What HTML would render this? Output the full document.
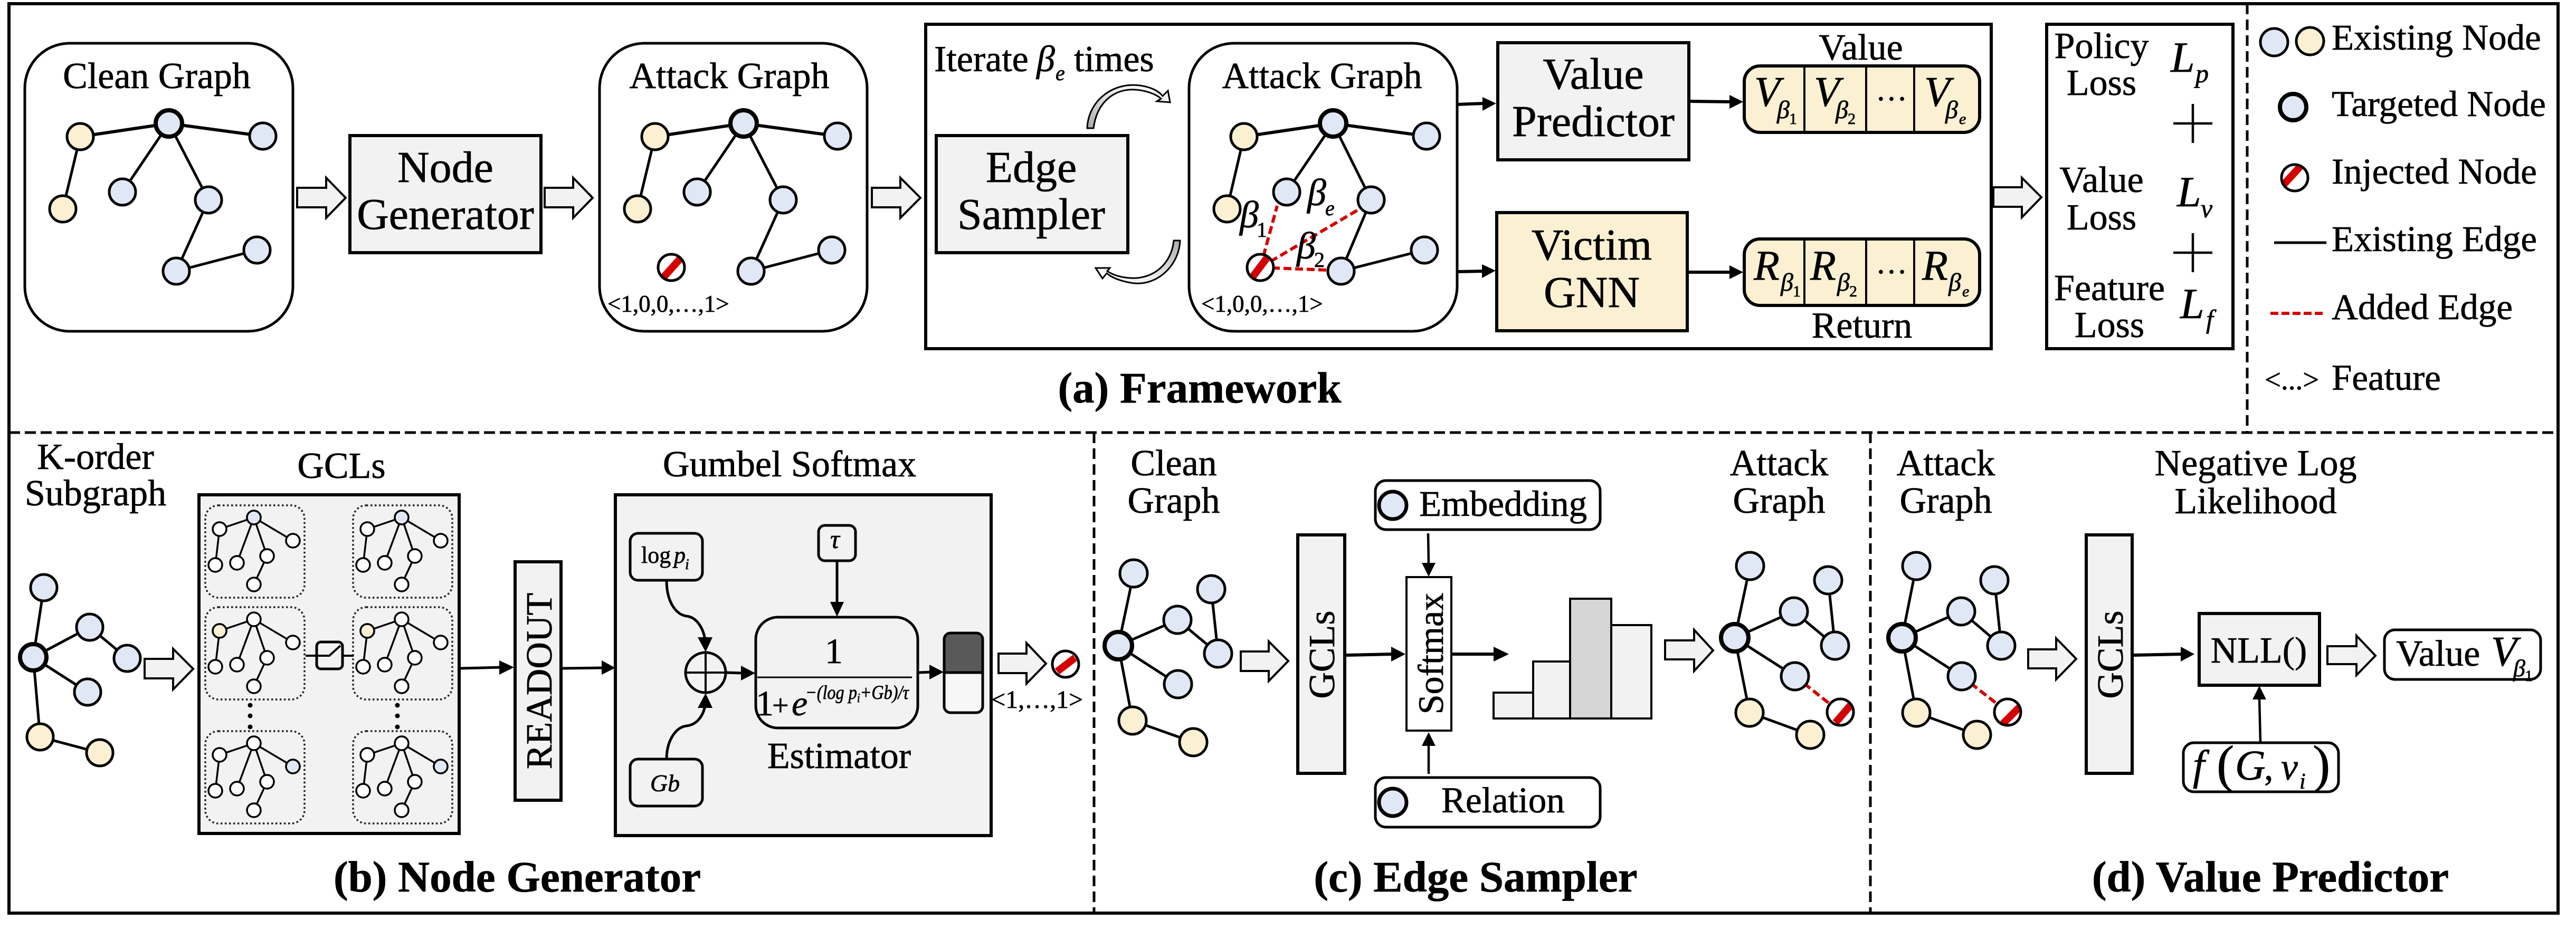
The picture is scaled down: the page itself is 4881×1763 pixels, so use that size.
<!DOCTYPE html>
<html>
<head>
<meta charset="utf-8">
<style>
html,body{margin:0;padding:0;background:#fff;width:4881px;height:1763px;overflow:hidden}
svg{display:block}
text{font-family:"Liberation Serif","Times New Roman",serif;fill:#000;stroke:#000;stroke-width:.7}
.i{font-style:italic}
.m{text-anchor:middle}
.h{font-size:70px}
.b{font-size:84px}
.c{font-size:83px;font-weight:bold}
.n{stroke:#000;stroke-width:5;fill:#e1e8f5}
.y{stroke:#000;stroke-width:5;fill:#fbf1d2}
.t{stroke:#000;stroke-width:8;fill:#e1e8f5}
.e{stroke:#000;stroke-width:5;fill:none}
.ar{fill:#f2f2f2;stroke:#000;stroke-width:4;stroke-linejoin:miter}
.box{fill:#f2f2f2;stroke:#000;stroke-width:6}
.rb{fill:#fff;stroke:#000;stroke-width:5}
.ln{stroke:#000;stroke-width:6;fill:none}
.hd{fill:#000}
.rd{stroke:#d40000;stroke-width:6;stroke-dasharray:15 7;fill:none}
.dt{fill:none;stroke:#222;stroke-width:3.5;stroke-dasharray:3.5 4.5}
.mn{fill:#fff;stroke:#000;stroke-width:3.5}
.me{fill:none;stroke:#000;stroke-width:3.5}
</style>
</head>
<body>
<svg xmlns="http://www.w3.org/2000/svg" width="4881" height="1763" viewBox="0 0 4881 1763">
<defs>
<clipPath id="cc"><circle r="24"/></clipPath>
<g id="g1">
<path class="e" style="stroke-width:6" d="M152,259L320,234L498,258"/>
<path class="e" d="M152,259L119,396M320,234L232,364M320,234L395,379L334,514L487,474"/>
<circle class="y" cx="152" cy="259" r="25"/><circle class="y" cx="119" cy="396" r="25"/>
<circle class="n" cx="498" cy="258" r="25"/><circle class="n" cx="232" cy="364" r="25"/>
<circle class="n" cx="395" cy="379" r="25"/><circle class="n" cx="334" cy="514" r="25"/>
<circle class="n" cx="487" cy="474" r="25"/><circle class="t" cx="320" cy="234" r="25"/>
</g>
<g id="mini">
<path class="me" d="M27,45L92,23L166,67M27,45L19,113M92,23L60,109M92,23L117,96L92,150"/>
<circle class="mn" cx="92" cy="23" r="13"/><circle class="mn" cx="27" cy="45" r="13"/><circle class="mn" cx="166" cy="67" r="13"/>
<circle class="mn" cx="19" cy="113" r="13"/><circle class="mn" cx="60" cy="109" r="13"/><circle class="mn" cx="117" cy="96" r="13"/><circle class="mn" cx="92" cy="150" r="13"/>
</g>
<linearGradient id="cg1" x1="0" y1="1" x2="1" y2="0"><stop offset="0" stop-color="#aaa"/><stop offset="0.6" stop-color="#eee"/><stop offset="1" stop-color="#fff"/></linearGradient>
<linearGradient id="cg2" x1="1" y1="0" x2="0" y2="1"><stop offset="0" stop-color="#aaa"/><stop offset="0.6" stop-color="#eee"/><stop offset="1" stop-color="#fff"/></linearGradient>
</defs>

<!-- outer frame and separators -->
<rect x="17" y="7" width="4830" height="1724" fill="none" stroke="#000" stroke-width="6"/>
<line x1="17" y1="820" x2="4847" y2="820" stroke="#000" stroke-width="5" stroke-dasharray="21 9"/>
<line x1="2073" y1="820" x2="2073" y2="1728" stroke="#000" stroke-width="5" stroke-dasharray="20 10"/>
<line x1="3544" y1="820" x2="3544" y2="1728" stroke="#000" stroke-width="5" stroke-dasharray="20 10"/>
<line x1="4258" y1="7" x2="4258" y2="820" stroke="#000" stroke-width="5" stroke-dasharray="20 10"/>

<!-- (a) -->
<rect class="rb" x="47" y="82" width="508" height="546" rx="85" ry="85"/>
<text class="h m" x="297" y="167">Clean Graph</text>
<use href="#g1"/>
<path class="ar" d="M563,356H618V337L655,375L618,413V393H563Z"/>
<rect class="box" x="663" y="257" width="362" height="222"/>
<text class="b m" x="844" y="345">Node</text>
<text class="b m" x="844" y="434">Generator</text>
<path class="ar" d="M1032,356H1086V337L1123,375L1086,413V393H1032Z"/>
<rect class="rb" x="1136" y="82" width="507" height="546" rx="85" ry="85"/>
<text class="h m" x="1382" y="167">Attack Graph</text>
<use href="#g1" transform="translate(1089,0)"/>
<g transform="translate(1272,507)"><circle r="25" fill="#fff"/><g clip-path="url(#cc)"><line x1="-16" y1="20" x2="18" y2="-18" stroke="#d40000" stroke-width="14"/></g><circle r="25" fill="none" stroke="#000" stroke-width="5"/></g>
<text x="1151" y="591" font-size="45">&lt;1,0,0,…,1&gt;</text>
<path class="ar" d="M1652,356H1706V337L1744,375L1706,413V393H1652Z"/>

<rect x="1754" y="46" width="2019" height="615" fill="none" stroke="#000" stroke-width="6"/>
<text class="h" x="1770" y="135">Iterate</text>
<text class="h i" x="1964" y="135">β</text>
<text class="i" x="2000" y="152" font-size="40">e</text>
<text class="h" x="2035" y="135">times</text>
<rect class="box" x="1774" y="257" width="363" height="222"/>
<text class="b m" x="1954" y="345">Edge</text>
<text class="b m" x="1954" y="434">Sampler</text>
<path d="M2060,243C2062,190 2110,155 2160,162C2180,165 2195,172 2203,182L2213,172L2217,194L2192,192L2200,187C2190,178 2170,171 2150,170C2110,168 2078,195 2072,243Z" fill="url(#cg1)" stroke="#000" stroke-width="3"/>
<path d="M2236,456C2234,505 2190,545 2142,536C2120,532 2105,525 2097,518L2089,528L2076,508L2103,508L2098,514C2110,522 2125,526 2142,527C2185,530 2220,500 2224,456Z" fill="url(#cg2)" stroke="#000" stroke-width="3"/>
<rect class="rb" x="2253" y="82" width="508" height="546" rx="85" ry="85"/>
<text class="h m" x="2505" y="167">Attack Graph</text>
<path class="e" style="stroke-width:6" d="M2357,259L2526,234L2703,258"/>
<path class="e" d="M2357,259L2325,396M2526,234L2438,364M2526,234L2598,379L2541,514M2541,514L2699,474"/>
<path class="rd" d="M2388,507L2420,390"/>
<path class="rd" d="M2388,507L2578,395"/>
<path class="rd" d="M2388,507L2515,512"/>
<circle class="y" cx="2357" cy="259" r="25"/><circle class="y" cx="2325" cy="396" r="25"/>
<circle class="n" cx="2703" cy="258" r="25"/><circle class="n" cx="2438" cy="364" r="25"/>
<circle class="n" cx="2598" cy="379" r="25"/><circle class="n" cx="2541" cy="514" r="25"/>
<circle class="n" cx="2699" cy="474" r="25"/><circle class="t" cx="2526" cy="234" r="25"/>
<g transform="translate(2388,507)"><circle r="25" fill="#fff"/><g clip-path="url(#cc)"><line x1="-16" y1="20" x2="14" y2="-20" stroke="#d40000" stroke-width="14"/></g><circle r="25" fill="none" stroke="#000" stroke-width="5"/></g>
<text class="i" x="2349" y="431" font-size="72">β</text><text x="2381" y="449" font-size="40">1</text>
<text class="i" x="2457" y="490" font-size="72">β</text><text x="2490" y="506" font-size="40">2</text>
<text class="i" x="2477" y="389" font-size="72">β</text><text class="i" x="2511" y="408" font-size="40">e</text>
<text x="2276" y="591" font-size="45">&lt;1,0,0,…,1&gt;</text>

<path class="ln" d="M2761,198L2812,196"/><path class="hd" d="M2835,196L2809,184V210Z"/>
<path class="ln" d="M2761,515L2812,514"/><path class="hd" d="M2834,513L2808,501V527Z"/>
<rect class="box" x="2838" y="81" width="362" height="222"/>
<text class="b m" x="3019" y="168">Value</text>
<text class="b m" x="3019" y="258">Predictor</text>
<rect class="box" style="fill:#fbf1d2" x="2836" y="403" width="361" height="224"/>
<text class="b m" x="3016" y="492">Victim</text>
<text class="b m" x="3016" y="582">GNN</text>
<path class="ln" d="M3200,192L3280,193"/><path class="hd" d="M3303,193L3277,180V206Z"/>
<path class="ln" d="M3197,516L3280,516"/><path class="hd" d="M3303,516L3277,503V529Z"/>

<text class="h m" x="3526" y="113">Value</text>
<rect class="y" style="stroke-width:6" x="3305" y="125" width="446" height="126" rx="30"/>
<path class="e" d="M3419,125V251M3536,125V251M3627,125V251" style="stroke-width:4"/>
<text class="i" x="3324" y="201" font-size="80">V</text><text class="i" x="3367" y="224" font-size="48">β</text><text x="3390" y="235" font-size="30">1</text>
<text class="i" x="3437" y="201" font-size="80">V</text><text class="i" x="3478" y="224" font-size="48">β</text><text x="3501" y="235" font-size="30">2</text>
<text class="m" x="3584" y="190" font-size="60">…</text>
<text class="i" x="3646" y="201" font-size="80">V</text><text class="i" x="3686" y="224" font-size="48">β</text><text class="i" x="3712" y="235" font-size="30">e</text>

<rect class="y" style="stroke-width:6" x="3305" y="453" width="446" height="126" rx="30"/>
<path class="e" d="M3419,453V579M3536,453V579M3627,453V579" style="stroke-width:4"/>
<text class="i" x="3323" y="530" font-size="80">R</text><text class="i" x="3374" y="551" font-size="48">β</text><text x="3397" y="562" font-size="30">1</text>
<text class="i" x="3430" y="530" font-size="80">R</text><text class="i" x="3481" y="551" font-size="48">β</text><text x="3504" y="562" font-size="30">2</text>
<text class="m" x="3584" y="518" font-size="60">…</text>
<text class="i" x="3642" y="530" font-size="80">R</text><text class="i" x="3692" y="551" font-size="48">β</text><text class="i" x="3718" y="562" font-size="30">e</text>
<text class="h m" x="3528" y="640">Return</text>

<path class="ar" d="M3777,355H3831V337L3868,374L3831,412V392H3777Z"/>
<rect x="3878" y="46" width="353" height="615" fill="#fff" stroke="#000" stroke-width="6"/>
<text class="h m" x="3982" y="110">Policy</text><text class="h m" x="3982" y="180">Loss</text>
<text class="h m" x="3982" y="364">Value</text><text class="h m" x="3982" y="435">Loss</text>
<text class="h m" x="3997" y="569">Feature</text><text class="h m" x="3997" y="639">Loss</text>
<text class="i" x="4113" y="136" font-size="82">L</text><text class="i" x="4160" y="156" font-size="50">p</text>
<text class="i" x="4125" y="391" font-size="82">L</text><text class="i" x="4170" y="412" font-size="50">v</text>
<text class="i" x="4131" y="603" font-size="82">L</text><text class="i" x="4180" y="622" font-size="50">f</text>
<path d="M4118,234H4192M4155,197V271M4118,479H4192M4155,442V516" stroke="#000" stroke-width="4.5" fill="none"/>
<text class="c m" x="2273" y="763">(a) Framework</text>

<!-- legend -->
<circle class="n" cx="4309" cy="80" r="26"/><circle class="y" cx="4377" cy="78" r="26"/>
<text x="4418" y="94" font-size="69">Existing Node</text>
<circle class="t" cx="4345" cy="203" r="25"/>
<text x="4418" y="220" font-size="69">Targeted Node</text>
<g transform="translate(4348,337)"><circle r="25" fill="#fff"/><g clip-path="url(#cc)"><line x1="-22" y1="14" x2="11" y2="-22" stroke="#d40000" stroke-width="14"/></g><circle r="25" fill="none" stroke="#000" stroke-width="5"/></g>
<text x="4418" y="348" font-size="69">Injected Node</text>
<line x1="4309" y1="460" x2="4408" y2="460" stroke="#000" stroke-width="5"/>
<text x="4418" y="476" font-size="69">Existing Edge</text>
<line x1="4302" y1="594" x2="4401" y2="594" stroke="#d40000" stroke-width="6" stroke-dasharray="15 6"/>
<text x="4418" y="605" font-size="69">Added Edge</text>
<text x="4291" y="738" font-size="55">&lt;...&gt;</text>
<text x="4418" y="739" font-size="69">Feature</text>

<!-- (b) -->
<text class="h m" x="181" y="889">K-order</text>
<text class="h m" x="181" y="958">Subgraph</text>
<path class="e" d="M63,1246L83,1114M63,1246L170,1189L241,1248M63,1246L166,1312M63,1246L76,1397L189,1427"/>
<circle class="n" cx="83" cy="1114" r="25"/><circle class="n" cx="170" cy="1189" r="25"/><circle class="n" cx="241" cy="1248" r="25"/><circle class="n" cx="166" cy="1312" r="25"/>
<circle class="y" cx="76" cy="1397" r="25"/><circle class="y" cx="189" cy="1427" r="25"/>
<circle class="t" cx="63" cy="1246" r="25"/>
<path class="ar" d="M274,1249H328V1230L366,1268L328,1307V1286H274Z"/>
<text class="h m" x="647" y="906">GCLs</text>
<rect class="box" x="377" y="938" width="493" height="642"/>
<rect class="dt" x="389" y="958" width="188" height="175" rx="25"/>
<rect class="dt" x="669" y="958" width="188" height="175" rx="25"/>
<rect class="dt" x="389" y="1151" width="188" height="175" rx="25"/>
<rect class="dt" x="669" y="1151" width="188" height="175" rx="25"/>
<rect class="dt" x="389" y="1386" width="188" height="175" rx="25"/>
<rect class="dt" x="669" y="1386" width="188" height="175" rx="25"/>
<use href="#mini" transform="translate(389,958)"/>
<use href="#mini" transform="translate(669,958)"/>
<use href="#mini" transform="translate(389,1151)"/>
<use href="#mini" transform="translate(669,1151)"/>
<use href="#mini" transform="translate(389,1386)"/>
<use href="#mini" transform="translate(669,1386)"/>
<circle class="mn" style="fill:#e1e8f5" cx="481" cy="981" r="13"/>
<circle class="mn" style="fill:#e1e8f5" cx="761" cy="981" r="13"/>
<circle class="mn" style="fill:#fbf1d2" cx="416" cy="1196" r="13"/>
<circle class="mn" style="fill:#fbf1d2" cx="696" cy="1196" r="13"/>
<circle class="mn" style="fill:#e1e8f5" cx="555" cy="1453" r="13"/>
<circle class="mn" style="fill:#e1e8f5" cx="835" cy="1453" r="13"/>
<g fill="#000"><circle cx="474" cy="1337" r="4.5"/><circle cx="474" cy="1357" r="4.5"/><circle cx="474" cy="1378" r="4.5"/><circle cx="753" cy="1337" r="4.5"/><circle cx="753" cy="1357" r="4.5"/><circle cx="753" cy="1378" r="4.5"/></g>
<rect x="600" y="1217" width="49" height="51" rx="8" fill="none" stroke="#000" stroke-width="5"/>
<path d="M579,1243H624L645,1224M649,1243H670" fill="none" stroke="#000" stroke-width="4"/>
<path class="ln" style="stroke-width:5" d="M872,1267L950,1265"/><path class="hd" d="M974,1265L946,1252V1279Z"/>
<rect class="box" x="976" y="1065" width="87" height="452"/>
<text class="h m" transform="translate(1045,1291) rotate(-90)">READOUT</text>
<path class="ln" style="stroke-width:5" d="M1066,1267L1144,1266"/><path class="hd" d="M1166,1266L1140,1252V1279Z"/>
<text class="h m" x="1496" y="903">Gumbel Softmax</text>
<rect class="box" x="1166" y="938" width="712" height="646"/>
<rect x="1194" y="1011" width="137" height="89" rx="15" fill="none" stroke="#000" stroke-width="5"/>
<text x="1215" y="1067" font-size="44">log</text><text class="i" x="1277" y="1067" font-size="44">p</text><text class="i" x="1298" y="1079" font-size="28">i</text>
<rect x="1551" y="996" width="70" height="67" rx="12" fill="none" stroke="#000" stroke-width="5"/>
<text class="i m" x="1582" y="1039" font-size="50">τ</text>
<rect x="1194" y="1439" width="137" height="89" rx="15" fill="none" stroke="#000" stroke-width="5"/>
<text class="i m" x="1260" y="1500" font-size="46">Gb</text>
<path class="ln" style="stroke-width:5" d="M1586,1063V1145"/><path class="hd" d="M1586,1169L1573,1141H1599Z"/>
<path class="ln" style="stroke-width:5" d="M1263,1100C1263,1140 1280,1165 1301,1168C1320,1170 1332,1190 1336,1212"/><path class="hd" d="M1337,1236L1322,1208H1350Z"/>
<path class="ln" style="stroke-width:5" d="M1263,1439C1263,1405 1280,1378 1301,1376C1320,1374 1332,1358 1336,1338"/><path class="hd" d="M1337,1314L1322,1342H1350Z"/>
<circle cx="1337" cy="1275" r="38" fill="none" stroke="#000" stroke-width="5"/>
<path d="M1299,1275H1375M1337,1237V1313" stroke="#000" stroke-width="4" fill="none"/>
<path class="ln" style="stroke-width:5" d="M1376,1275L1408,1276"/><path class="hd" d="M1431,1276L1404,1262V1290Z"/>
<rect x="1432" y="1170" width="307" height="210" rx="42" fill="none" stroke="#000" stroke-width="5"/>
<line x1="1435" y1="1284" x2="1728" y2="1284" stroke="#000" stroke-width="3"/>
<text class="m" x="1580" y="1257" font-size="68">1</text>
<text x="1432" y="1356" font-size="68">1</text><text x="1463" y="1356" font-size="56">+</text><text class="i" x="1500" y="1356" font-size="68">e</text>
<text class="i" x="1526" y="1325" font-size="37" textLength="196" lengthAdjust="spacingAndGlyphs">−(log p<tspan font-size="24" dy="6">i</tspan><tspan dy="-6">+Gb)/τ</tspan></text>
<path class="ln" style="stroke-width:5" d="M1740,1275L1765,1274"/><path class="hd" d="M1788,1274L1761,1260V1288Z"/>
<rect x="1789" y="1200" width="73" height="151" rx="12" fill="#f7f7f7"/>
<path d="M1789,1275V1212a12,12 0 0 1 12,-12H1850a12,12 0 0 1 12,12V1275Z" fill="#595959"/>
<rect x="1789" y="1200" width="73" height="151" rx="12" fill="none" stroke="#000" stroke-width="5"/>
<line x1="1789" y1="1275" x2="1862" y2="1275" stroke="#000" stroke-width="5"/>
<text class="h m" x="1590" y="1456">Estimator</text>
<path class="ar" d="M1892,1239H1945V1219L1982,1258L1945,1296V1276H1892Z"/>
<g transform="translate(2019,1259)"><circle r="25" fill="#fff"/><g clip-path="url(#cc)"><line x1="-16" y1="14" x2="18" y2="-12" stroke="#d40000" stroke-width="14"/></g><circle r="25" fill="none" stroke="#000" stroke-width="5"/></g>
<text x="1878" y="1342" font-size="48">&lt;1,…,1&gt;</text>
<text class="c m" x="980" y="1690">(b) Node Generator</text>

<!-- (c) -->
<text class="h m" x="2224" y="901">Clean</text><text class="h m" x="2224" y="972">Graph</text>
<path class="e" d="M2119,1224L2148,1087M2119,1224L2231,1175L2308,1239L2295,1117M2119,1224L2232,1297M2119,1224L2146,1366L2261,1407"/>
<circle class="n" cx="2148" cy="1087" r="26"/><circle class="n" cx="2231" cy="1175" r="26"/><circle class="n" cx="2308" cy="1239" r="26"/><circle class="n" cx="2232" cy="1297" r="26"/><circle class="n" cx="2295" cy="1117" r="26"/>
<circle class="y" cx="2146" cy="1366" r="26"/><circle class="y" cx="2261" cy="1407" r="26"/>
<circle class="t" cx="2119" cy="1224" r="26"/>
<path class="ar" d="M2351,1235H2404V1216L2441,1253L2404,1291V1272H2351Z"/>
<rect class="box" x="2459" y="1014" width="89" height="452"/>
<text class="h m" transform="translate(2528,1241) rotate(-90)">GCLs</text>
<path class="ln" d="M2550,1242L2640,1240"/><path class="hd" d="M2663,1240L2636,1226V1254Z"/>
<rect x="2665" y="1094" width="85" height="291" fill="#fff" stroke="#000" stroke-width="4"/>
<text class="m" font-size="68" transform="translate(2734,1239) rotate(-90)">Softmax</text>
<rect class="rb" x="2606" y="911" width="426" height="93" rx="20"/>
<circle class="n" style="stroke-width:7" cx="2639" cy="958" r="26"/>
<text font-size="69" x="2689" y="978">Embedding</text>
<rect class="rb" x="2606" y="1474" width="426" height="94" rx="20"/>
<circle class="n" style="stroke-width:7" cx="2639" cy="1521" r="26"/>
<text font-size="69" x="2731" y="1540">Relation</text>
<path class="ln" style="stroke-width:4.5" d="M2706,1011L2707,1070"/><path class="hd" d="M2707,1093L2694,1067H2720Z"/>
<path class="ln" style="stroke-width:4.5" d="M2707,1467V1412"/><path class="hd" d="M2707,1388L2694,1414H2720Z"/>
<path class="ln" d="M2751,1240H2835"/><path class="hd" d="M2859,1240L2830,1226V1254Z"/>
<g stroke="#000" stroke-width="4" fill="#f2f2f2">
<rect x="2830" y="1313" width="75" height="49"/>
<rect x="2905" y="1254" width="70" height="108"/>
<rect x="3053" y="1185" width="76" height="177"/>
<rect x="2975" y="1135" width="78" height="227" fill="#d6d6d6"/>
</g>
<path class="ar" d="M3155,1214H3210V1194L3246,1233L3210,1272V1250H3155Z"/>
<text class="h m" x="3371" y="901">Attack</text><text class="h m" x="3371" y="972">Graph</text>
<path class="e" d="M3287,1209L3316,1073M3287,1209L3399,1159L3477,1224L3464,1100M3287,1209L3401,1282M3287,1209L3315,1351L3430,1393"/>
<path class="rd" d="M3401,1282L3487,1350"/>
<circle class="n" cx="3316" cy="1073" r="26"/><circle class="n" cx="3399" cy="1159" r="26"/><circle class="n" cx="3477" cy="1224" r="26"/><circle class="n" cx="3401" cy="1282" r="26"/><circle class="n" cx="3464" cy="1100" r="26"/>
<circle class="y" cx="3315" cy="1351" r="26"/><circle class="y" cx="3430" cy="1393" r="26"/>
<circle class="t" cx="3287" cy="1209" r="26"/>
<g transform="translate(3487,1350)"><circle r="25" fill="#fff"/><g clip-path="url(#cc)"><line x1="-9" y1="20" x2="20" y2="-14" stroke="#d40000" stroke-width="14"/></g><circle r="25" fill="none" stroke="#000" stroke-width="5"/></g>
<text class="c m" x="2796" y="1690">(c) Edge Sampler</text>

<!-- (d) -->
<text class="h m" x="3687" y="901">Attack</text><text class="h m" x="3687" y="972">Graph</text>
<text class="h m" x="4274" y="901">Negative Log</text><text class="h m" x="4274" y="973">Likelihood</text>
<path class="e" d="M3604,1209L3631,1073M3604,1209L3716,1159L3792,1224L3779,1100M3604,1209L3717,1282M3604,1209L3631,1351L3746,1393"/>
<path class="rd" d="M3717,1282L3804,1350"/>
<circle class="n" cx="3631" cy="1073" r="26"/><circle class="n" cx="3716" cy="1159" r="26"/><circle class="n" cx="3792" cy="1224" r="26"/><circle class="n" cx="3717" cy="1282" r="26"/><circle class="n" cx="3779" cy="1100" r="26"/>
<circle class="y" cx="3631" cy="1351" r="26"/><circle class="y" cx="3746" cy="1393" r="26"/>
<circle class="t" cx="3604" cy="1209" r="26"/>
<g transform="translate(3804,1350)"><circle r="25" fill="#fff"/><g clip-path="url(#cc)"><line x1="-9" y1="22" x2="22" y2="-9" stroke="#d40000" stroke-width="14"/></g><circle r="25" fill="none" stroke="#000" stroke-width="5"/></g>
<path class="ar" d="M3843,1231H3896V1210L3934,1249L3896,1288V1267H3843Z"/>
<rect class="box" x="3953" y="1014" width="87" height="452"/>
<text class="h m" transform="translate(4022,1241) rotate(-90)">GCLs</text>
<path class="ln" d="M4042,1242L4136,1240"/><path class="hd" d="M4158,1240L4132,1226V1254Z"/>
<rect class="box" x="4167" y="1163" width="228" height="136"/>
<text class="h m" x="4280" y="1256">NLL()</text>
<path class="ar" d="M4410,1225H4465V1205L4501,1243L4465,1280V1259H4410Z"/>
<rect class="rb" x="4518" y="1194" width="296" height="94" rx="20"/>
<text class="h" x="4540" y="1262">Value</text>
<text class="i" x="4720" y="1262" font-size="80">V</text><text class="i" x="4762" y="1282" font-size="46">β</text><text x="4784" y="1291" font-size="30">1</text>
<rect class="rb" x="4137" y="1408" width="294" height="93" rx="20"/>
<text class="i" x="4155" y="1478" font-size="80">f</text>
<text x="4200" y="1482" font-size="100">(</text>
<text class="i" x="4235" y="1478" font-size="80">G</text>
<text x="4290" y="1478" font-size="70">,</text>
<text class="i" x="4322" y="1478" font-size="72">v</text>
<text class="i" x="4357" y="1495" font-size="42">i</text>
<text x="4382" y="1482" font-size="100">)</text>
<path class="ln" style="stroke-width:4.5" d="M4283,1408L4281,1322"/><path class="hd" d="M4281,1300L4268,1326H4294Z"/>
<text class="c m" x="4302" y="1690">(d) Value Predictor</text>
</svg>
</body>
</html>
